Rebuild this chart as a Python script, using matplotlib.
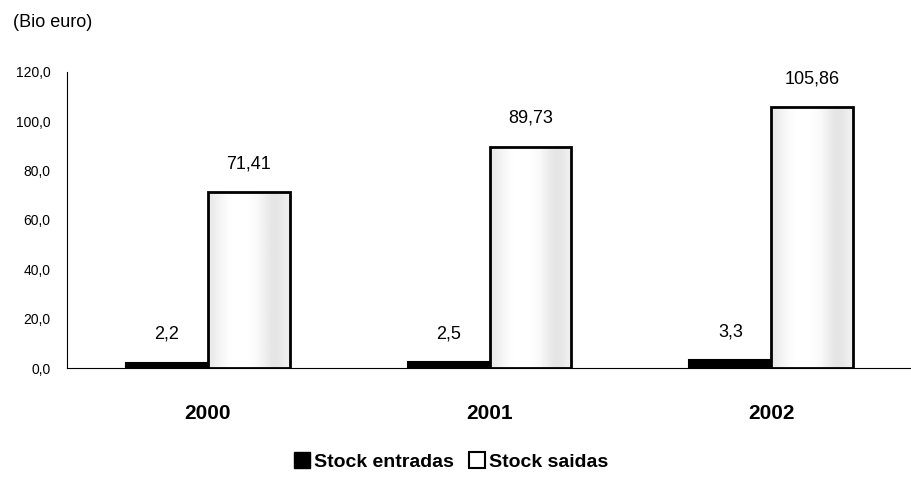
import matplotlib.pyplot as plt
import numpy as np
from matplotlib.lines import Line2D

plt.rcParams['font.family'] = ['Liberation Sans', 'DejaVu Sans']

years = ['2000', '2001', '2002']
entradas = [2.2, 2.5, 3.3]
saidas = [71.41, 89.73, 105.86]
entradas_labels = ['2,2', '2,5', '3,3']
saidas_labels = ['71,41', '89,73', '105,86']
yticks = [0, 20, 40, 60, 80, 100, 120]

fig = plt.figure(figsize=(9.12, 4.96), dpi=100)
ax = fig.add_axes([0.0735, 0.258, 0.9265, 0.597])

x = np.arange(len(years))
w = 0.29

ax.bar(x - w / 2, entradas, w, color='black', edgecolor='black', linewidth=1.5)
white_bars = ax.bar(x + w / 2, saidas, w, facecolor='none', edgecolor='black',
                    linewidth=2, zorder=3)

# soft cylinder-like shading inside the white bars
shade = np.array([0.91, 0.95, 0.98, 1.0, 1.0, 1.0, 0.99, 0.97, 0.93, 0.89, 0.90, 0.94])
grad = np.tile(shade, (2, 1))
for rect in white_bars:
    x0, y0 = rect.get_x(), rect.get_y()
    ax.imshow(grad, cmap='gray', vmin=0, vmax=1, aspect='auto',
              interpolation='bicubic',
              extent=[x0, x0 + rect.get_width(), y0, y0 + rect.get_height()],
              zorder=2)

for i in range(len(years)):
    ax.text(x[i] - w / 2, entradas[i] + 8, entradas_labels[i], ha='center',
            va='bottom', fontsize=13)
    ax.text(x[i] + w / 2, saidas[i] + 8, saidas_labels[i], ha='center',
            va='bottom', fontsize=13)

ax.set_xlim(-0.5, 2.5)
ax.set_ylim(0, 120)
ax.set_yticks(yticks)
ax.set_yticklabels([f'{v},0' for v in yticks], fontsize=10)
ax.set_xticks(x)
ax.set_xticklabels(years, fontsize=15, fontweight='bold')
ax.tick_params(length=0)
ax.tick_params(axis='x', pad=26)
ax.tick_params(axis='y', pad=12)

for s in ['top', 'right']:
    ax.spines[s].set_visible(False)
ax.spines['left'].set_linewidth(0.8)
ax.spines['bottom'].set_linewidth(0.8)

fig.text(0.014, 0.955, '(Bio euro)', fontsize=13, va='center')

handles = [
    Line2D([], [], marker='s', color='none', markerfacecolor='black',
           markeredgecolor='black', markersize=11),
    Line2D([], [], marker='s', color='none', markerfacecolor='white',
           markeredgecolor='black', markersize=11, markeredgewidth=1.5),
]
fig.legend(handles, ['Stock entradas', 'Stock saidas'], loc='center',
           bbox_to_anchor=(0.495, 0.068), ncol=2, frameon=False,
           prop={'size': 14, 'weight': 'bold'}, handlelength=0.8,
           handletextpad=0.2, columnspacing=0.8)

fig.savefig('out.png', dpi=100)
